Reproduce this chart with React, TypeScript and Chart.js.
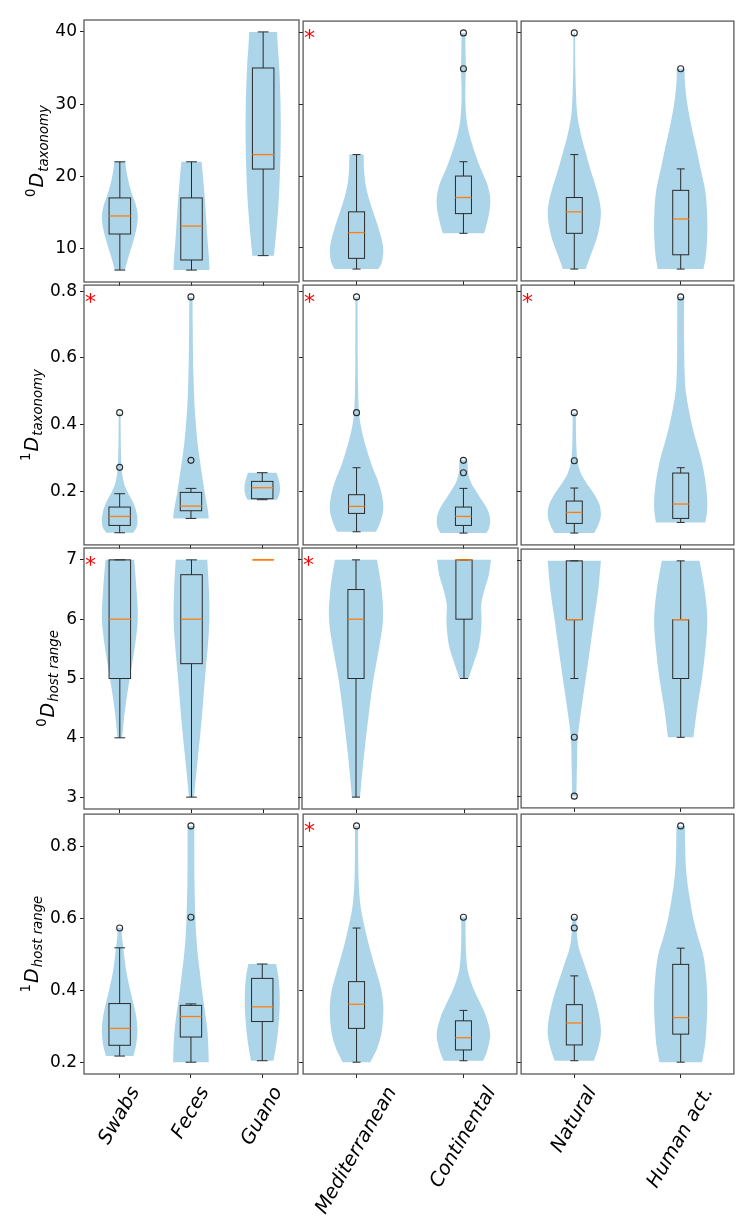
import React, { useEffect, useRef } from 'react';
import { Chart, registerables } from 'chart.js';

Chart.register(...registerables);

// ---------------- data ----------------
const GROUP_LABELS: string[][] = [
  ['Swabs', 'Feces', 'Guano'],
  ['Mediterranean', 'Continental'],
  ['Natural', 'Human act.'],
];
const ROW_SUPERSCRIPTS = ['0', '1', '0', '1'];
const ROW_SUBSCRIPTS = ['taxonomy', 'taxonomy', 'host range', 'host range'];
const Y_TICKS = [
  [10, 20, 30, 40],
  [0.2, 0.4, 0.6, 0.8],
  [3, 4, 5, 6, 7],
  [0.2, 0.4, 0.6, 0.8],
];
const Y_TICK_LABELS = [
  ['10', '20', '30', '40'],
  ['0.2', '0.4', '0.6', '0.8'],
  ['3', '4', '5', '6', '7'],
  ['0.2', '0.4', '0.6', '0.8'],
];
const SIGNIFICANT = [
  [false, true, false],
  [true, true, true],
  [true, true, false],
  [false, true, false],
];

// box stats: [whisker low, Q1, median, Q3, whisker high]
// order: Swabs, Feces, Guano, Mediterranean, Continental, Natural, Human act.
const BOX_TAX0 = [
  [7, 12, 14.5, 17, 22],
  [7, 8.4, 13.1, 17, 22],
  [9, 21, 23, 35, 40],
  [7, 8.5, 12.1, 15, 23],
  [12, 14.75, 17, 20, 22],
  [7, 12, 15, 17, 23],
  [7, 9, 14, 18, 21],
];
const OUT_TAX0 = [[], [], [], [], [35, 40], [40], [35]];
const VIOLIN_TAX0 = [
  [[7, 0.28], [9, 0.5], [11, 0.75], [13, 0.95], [14.5, 1.0], [16, 0.9], [18, 0.62], [20, 0.42], [22, 0.3]],
  [[7, 1.0], [8.5, 0.98], [11, 0.9], [14, 0.82], [17, 0.74], [20, 0.64], [22, 0.56]],
  [[9, 0.6], [12, 0.72], [16, 0.85], [20, 0.93], [25, 0.98], [30, 0.97], [35, 0.9], [38, 0.82], [40, 0.78]],
  [[7, 0.82], [8, 0.95], [9.5, 1.0], [11, 0.95], [13, 0.8], [15, 0.62], [17, 0.45], [19, 0.33], [21, 0.28], [23, 0.27]],
  [[12, 0.77], [13, 0.85], [15, 0.97], [17, 1.0], [19, 0.88], [21, 0.65], [23, 0.45], [25, 0.28], [27, 0.15], [29, 0.09], [31, 0.07], [33, 0.075], [35, 0.09], [37, 0.08], [40, 0.07]],
  [[7, 0.43], [9, 0.62], [11, 0.82], [13, 0.95], [15, 1.0], [17, 0.92], [19, 0.77], [21, 0.6], [23, 0.45], [25, 0.3], [27, 0.18], [29, 0.1], [32, 0.06], [35, 0.04], [40, 0.03]],
  [[7, 0.86], [9, 0.95], [12, 1.0], [15, 0.99], [18, 0.92], [21, 0.75], [24, 0.58], [27, 0.4], [30, 0.25], [33, 0.16], [35, 0.15]],
];

const BOX_TAX1 = [
  [0.076, 0.098, 0.125, 0.153, 0.193],
  [0.119, 0.142, 0.156, 0.197, 0.209],
  [0.175, 0.178, 0.211, 0.23, 0.256],
  [0.079, 0.134, 0.155, 0.19, 0.271],
  [0.075, 0.098, 0.125, 0.153, 0.209],
  [0.075, 0.104, 0.137, 0.171, 0.21],
  [0.107, 0.119, 0.162, 0.255, 0.271],
];
const OUT_TAX1 = [[0.272, 0.436], [0.293, 0.783], [], [0.436, 0.783], [0.256, 0.293], [0.292, 0.436], [0.783]];
const VIOLIN_TAX1 = [
  [[0.076, 0.75], [0.09, 0.93], [0.11, 1.0], [0.13, 0.97], [0.155, 0.85], [0.18, 0.63], [0.2, 0.43], [0.22, 0.27], [0.25, 0.15], [0.28, 0.1], [0.33, 0.07], [0.38, 0.06], [0.436, 0.05]],
  [[0.119, 1.0], [0.15, 0.93], [0.2, 0.76], [0.25, 0.62], [0.3, 0.48], [0.35, 0.36], [0.4, 0.28], [0.45, 0.21], [0.5, 0.17], [0.55, 0.14], [0.6, 0.12], [0.7, 0.1], [0.783, 0.09]],
  [[0.175, 0.82], [0.19, 0.95], [0.21, 1.0], [0.23, 0.95], [0.245, 0.87], [0.256, 0.8]],
  [[0.079, 0.73], [0.1, 0.85], [0.13, 0.97], [0.16, 1.0], [0.2, 0.92], [0.24, 0.76], [0.28, 0.56], [0.32, 0.4], [0.36, 0.26], [0.4, 0.15], [0.44, 0.09], [0.5, 0.06], [0.6, 0.045], [0.783, 0.04]],
  [[0.075, 0.86], [0.09, 0.96], [0.115, 1.0], [0.14, 0.93], [0.16, 0.8], [0.18, 0.63], [0.2, 0.48], [0.22, 0.32], [0.24, 0.22], [0.26, 0.17], [0.293, 0.15]],
  [[0.075, 0.74], [0.09, 0.85], [0.115, 0.97], [0.135, 1.0], [0.16, 0.95], [0.18, 0.83], [0.2, 0.68], [0.22, 0.5], [0.24, 0.34], [0.26, 0.22], [0.29, 0.12], [0.33, 0.08], [0.38, 0.065], [0.436, 0.06]],
  [[0.107, 0.93], [0.14, 0.99], [0.17, 1.0], [0.21, 0.96], [0.25, 0.89], [0.3, 0.76], [0.35, 0.58], [0.4, 0.42], [0.45, 0.29], [0.5, 0.19], [0.55, 0.15], [0.65, 0.13], [0.783, 0.13]],
];

const BOX_HOST0 = [
  [4, 5, 6, 7, 7],
  [3, 5.25, 6, 6.75, 7],
  [7, 7, 7, 7, 7],
  [3, 5, 6, 6.5, 7],
  [5, 6, 7, 7, 7],
  [5, 6, 6, 7, 7],
  [4, 5, 6, 6, 7],
];
const OUT_HOST0 = [[], [], [], [], [], [4, 3], []];
const VIOLIN_HOST0 = [
  [[4, 0.13], [4.5, 0.3], [5, 0.55], [5.5, 0.82], [6, 1.0], [6.5, 0.93], [7, 0.8]],
  [[3, 0.14], [3.5, 0.3], [4, 0.47], [4.5, 0.62], [5, 0.75], [5.5, 0.9], [6, 1.0], [6.5, 0.97], [7, 0.88]],
  [],
  [[3, 0.15], [3.5, 0.25], [4, 0.37], [4.5, 0.5], [5, 0.65], [5.5, 0.85], [6, 1.0], [6.5, 0.95], [7, 0.78]],
  [[5, 0.17], [5.25, 0.35], [5.5, 0.53], [5.75, 0.62], [6, 0.65], [6.25, 0.64], [6.5, 0.76], [6.75, 0.92], [7, 1.0]],
  [[3, 0.08], [3.5, 0.1], [4, 0.13], [4.5, 0.27], [5, 0.43], [5.5, 0.59], [6, 0.74], [6.5, 0.9], [7, 1.0]],
  [[4, 0.48], [4.5, 0.62], [5, 0.8], [5.5, 0.93], [6, 1.0], [6.5, 0.9], [7, 0.71]],
];

const BOX_HOST1 = [
  [0.217, 0.247, 0.294, 0.363, 0.518],
  [0.2, 0.27, 0.327, 0.358, 0.362],
  [0.204, 0.313, 0.354, 0.433, 0.473],
  [0.2, 0.294, 0.361, 0.424, 0.573],
  [0.204, 0.234, 0.268, 0.315, 0.344],
  [0.204, 0.248, 0.309, 0.36, 0.44],
  [0.2, 0.278, 0.324, 0.472, 0.517],
];
const OUT_HOST1 = [[0.573], [0.603, 0.857], [], [0.857], [0.603], [0.573, 0.603], [0.857]];
const VIOLIN_HOST1 = [
  [[0.217, 0.77], [0.25, 0.93], [0.29, 1.0], [0.33, 0.92], [0.37, 0.74], [0.41, 0.55], [0.45, 0.38], [0.49, 0.27], [0.52, 0.2], [0.55, 0.13], [0.573, 0.11]],
  [[0.2, 1.0], [0.25, 0.97], [0.3, 0.9], [0.35, 0.76], [0.4, 0.62], [0.45, 0.5], [0.5, 0.38], [0.55, 0.3], [0.6, 0.25], [0.7, 0.2], [0.8, 0.19], [0.857, 0.19]],
  [[0.204, 0.63], [0.24, 0.76], [0.28, 0.87], [0.32, 0.94], [0.36, 0.98], [0.4, 0.97], [0.44, 0.9], [0.473, 0.78]],
  [[0.2, 0.52], [0.24, 0.78], [0.28, 0.93], [0.32, 0.99], [0.36, 1.0], [0.4, 0.93], [0.44, 0.79], [0.48, 0.63], [0.52, 0.48], [0.56, 0.35], [0.6, 0.23], [0.64, 0.14], [0.7, 0.08], [0.78, 0.06], [0.857, 0.06]],
  [[0.204, 0.74], [0.23, 0.88], [0.26, 0.98], [0.28, 1.0], [0.31, 0.92], [0.34, 0.78], [0.37, 0.59], [0.4, 0.4], [0.43, 0.25], [0.46, 0.15], [0.5, 0.1], [0.55, 0.08], [0.603, 0.08]],
  [[0.204, 0.74], [0.24, 0.9], [0.28, 1.0], [0.32, 0.96], [0.36, 0.85], [0.4, 0.7], [0.44, 0.52], [0.48, 0.34], [0.51, 0.2], [0.54, 0.12], [0.57, 0.09], [0.603, 0.08]],
  [[0.2, 0.8], [0.25, 0.92], [0.3, 0.97], [0.35, 1.0], [0.4, 0.99], [0.45, 0.94], [0.5, 0.84], [0.55, 0.64], [0.6, 0.47], [0.65, 0.35], [0.7, 0.25], [0.75, 0.19], [0.8, 0.17], [0.857, 0.16]],
];

const BOXES = [BOX_TAX0, BOX_TAX1, BOX_HOST0, BOX_HOST1];
const OUTLIERS = [OUT_TAX0, OUT_TAX1, OUT_HOST0, OUT_HOST1];
const VIOLINS = [VIOLIN_TAX0, VIOLIN_TAX1, VIOLIN_HOST0, VIOLIN_HOST1];

// ---------------- layout & style ----------------
const PANEL_LEFT = [84, 302, 520];
const PANEL_RIGHT = [299, 518, 735];
const PANEL_TOP = [20, 284, 548, 813];
const PANEL_BOTTOM = [282, 546, 809, 1074];
const PAGE_W = 756;
const PAGE_H = 1223;

const FONT = '"DejaVu Sans", "Liberation Sans", sans-serif';
const TICK_SIZE = 17;
const XLABEL_SIZE = 19.5;
const YLABEL_SIZE = 19;
const VIOLIN_COLOR = 'rgb(172, 213, 233)';
const BOX_COLOR = '#2a2a2a';
const MEDIAN_COLOR = '#ff7f0e';
const FRAME_COLOR = '#5a5a5a';
const VIOLIN_WIDTH = 0.5;

type Pt = { x: number; y: number };

function smoothTo(ctx: CanvasRenderingContext2D, pts: Pt[]) {
  for (let i = 0; i < pts.length - 1; i++) {
    const p0 = pts[Math.max(i - 1, 0)];
    const p1 = pts[i];
    const p2 = pts[i + 1];
    const p3 = pts[Math.min(i + 2, pts.length - 1)];
    ctx.bezierCurveTo(
      p1.x + (p2.x - p0.x) / 6, p1.y + (p2.y - p0.y) / 6,
      p2.x - (p3.x - p1.x) / 6, p2.y - (p3.y - p1.y) / 6,
      p2.x, p2.y
    );
  }
}

function geometry(r: number, c: number) {
  const left = c === 0 ? 0 : PANEL_LEFT[c] - 4;
  const top = PANEL_TOP[r] - 4;
  const right = PANEL_RIGHT[c] + 4;
  const bottom = r === 3 ? PAGE_H : PANEL_BOTTOM[r] + 4;
  return {
    left, top, width: right - left, height: bottom - top,
    yAxisW: PANEL_LEFT[c] - left,
    xAxisH: bottom - PANEL_BOTTOM[r],
  };
}

function makeChart(canvas: HTMLCanvasElement, r: number, c: number) {
  const g = geometry(r, c);
  const labels = GROUP_LABELS[c];
  const offset = GROUP_LABELS.slice(0, c).reduce((a, gr) => a + gr.length, 0);
  const n = labels.length;
  const positions = labels.map((_, i) => i + 1);
  const boxes = BOXES[r].slice(offset, offset + n);
  const outs = OUTLIERS[r].slice(offset, offset + n);
  const violins = VIOLINS[r].slice(offset, offset + n);
  const allVals = BOXES[r].flatMap((b) => [b[0], b[4]]).concat(OUTLIERS[r].flat());
  const lo = Math.min(...allVals);
  const hi = Math.max(...allVals);
  const margin = (hi - lo) * 0.05;
  const boxW = Math.min(0.15 * Math.max(n - 1, 1), 0.5);

  const violinPlugin = {
    id: 'violinBox',
    beforeDatasetsDraw(chart: any) {
      const ctx: CanvasRenderingContext2D = chart.ctx;
      const xs = chart.scales.x;
      const ys = chart.scales.y;
      const unit = xs.getPixelForValue(1) - xs.getPixelForValue(0);
      const ca = chart.chartArea;
      ctx.save();
      ctx.beginPath();
      ctx.rect(ca.left, ca.top, ca.right - ca.left, ca.bottom - ca.top);
      ctx.clip();
      violins.forEach((prof: number[][], i: number) => {
        if (!prof.length) return;
        const cx = xs.getPixelForValue(positions[i]);
        const half = (VIOLIN_WIDTH / 2) * unit;
        const rightPts = prof.map(([v, w]) => ({ x: cx + w * half, y: ys.getPixelForValue(v) }));
        const leftPts = prof.map(([v, w]) => ({ x: cx - w * half, y: ys.getPixelForValue(v) })).reverse();
        ctx.beginPath();
        ctx.moveTo(rightPts[0].x, rightPts[0].y);
        smoothTo(ctx, rightPts);
        ctx.lineTo(leftPts[0].x, leftPts[0].y);
        smoothTo(ctx, leftPts);
        ctx.closePath();
        ctx.fillStyle = VIOLIN_COLOR;
        ctx.fill();
      });
      boxes.forEach((b: number[], i: number) => {
        const cx = xs.getPixelForValue(positions[i]);
        const bw = boxW * unit;
        const [wl, q1, med, q3, wh] = b.map((v) => ys.getPixelForValue(v));
        const degenerate = Math.abs(wl - wh) < 0.5;
        if (!degenerate) {
          ctx.strokeStyle = BOX_COLOR;
          ctx.lineWidth = 1;
          ctx.beginPath();
          ctx.moveTo(cx, wl); ctx.lineTo(cx, q1);
          ctx.moveTo(cx, q3); ctx.lineTo(cx, wh);
          ctx.moveTo(cx - bw / 4, wl); ctx.lineTo(cx + bw / 4, wl);
          ctx.moveTo(cx - bw / 4, wh); ctx.lineTo(cx + bw / 4, wh);
          ctx.stroke();
          ctx.strokeRect(cx - bw / 2, q3, bw, q1 - q3);
        }
        ctx.strokeStyle = MEDIAN_COLOR;
        ctx.lineWidth = degenerate ? 1.8 : 1.3;
        ctx.beginPath();
        ctx.moveTo(cx - bw / 2, med); ctx.lineTo(cx + bw / 2, med);
        ctx.stroke();
      });
      ctx.restore();
    },
  };

  const decorPlugin = {
    id: 'decor',
    afterDraw(chart: any) {
      const ctx: CanvasRenderingContext2D = chart.ctx;
      const ca = chart.chartArea;
      const xs = chart.scales.x;
      ctx.save();
      ctx.strokeStyle = FRAME_COLOR;
      ctx.lineWidth = 1.3;
      ctx.strokeRect(ca.left, ca.top, ca.right - ca.left, ca.bottom - ca.top);
      if (SIGNIFICANT[r][c]) {
        ctx.fillStyle = 'red';
        ctx.font = `22px ${FONT}`;
        ctx.textAlign = 'center';
        ctx.textBaseline = 'alphabetic';
        ctx.fillText('*', ca.left + 6.5, ca.top + 24);
      }
      if (c === 0) {
        const F = YLABEL_SIZE;
        const s = F * 0.7;
        ctx.font = `${TICK_SIZE}px ${FONT}`;
        const maxTick = Math.max(...Y_TICK_LABELS[r].map((t) => ctx.measureText(t).width));
        const labelRight = ca.left - 7 - maxTick - 5;
        const baseX = labelRight - 0.25 * F - 0.2 * s;
        const cy = (ca.top + ca.bottom) / 2;
        const sup = ROW_SUPERSCRIPTS[r];
        const sub = ROW_SUBSCRIPTS[r];
        ctx.font = `${s}px ${FONT}`;
        const wSup = ctx.measureText(sup).width;
        ctx.font = `italic ${F}px ${FONT}`;
        const wD = ctx.measureText('D').width;
        ctx.font = `italic ${s}px ${FONT}`;
        const wSub = ctx.measureText(sub).width;
        const total = wSup + 1 + wD + 1 + wSub;
        ctx.translate(baseX, cy);
        ctx.rotate(-Math.PI / 2);
        ctx.fillStyle = '#000';
        ctx.textAlign = 'left';
        ctx.textBaseline = 'alphabetic';
        let x = -total / 2;
        ctx.font = `${s}px ${FONT}`;
        ctx.fillText(sup, x, -0.42 * F);
        x += wSup + 1;
        ctx.font = `italic ${F}px ${FONT}`;
        ctx.fillText('D', x, 0);
        x += wD + 1;
        ctx.font = `italic ${s}px ${FONT}`;
        ctx.fillText(sub, x, 0.24 * F);
        ctx.setTransform(1, 0, 0, 1, 0, 0);
      }
      if (r === 3) {
        const th = (60 * Math.PI) / 180;
        ctx.font = `italic ${XLABEL_SIZE}px ${FONT}`;
        ctx.fillStyle = '#000';
        ctx.textAlign = 'center';
        ctx.textBaseline = 'middle';
        const H = XLABEL_SIZE * 1.16;
        labels.forEach((lab, i) => {
          const W = ctx.measureText(lab).width;
          const bh = W * Math.sin(th) + H * Math.cos(th);
          const tx = xs.getPixelForValue(positions[i]);
          const ty = ca.bottom + 9 + bh / 2;
          ctx.save();
          ctx.translate(tx, ty);
          ctx.rotate(-th);
          ctx.fillText(lab, 0, 0);
          ctx.restore();
        });
      }
      ctx.restore();
    },
  };

  const pointData = outs.flatMap((o: number[], i: number) => o.map((v) => ({ x: positions[i], y: v })));

  return new Chart(canvas, {
    type: 'scatter',
    data: {
      datasets: [
        {
          data: pointData,
          pointRadius: 3,
          pointBorderColor: '#2a2a2a',
          pointBackgroundColor: 'rgba(0,0,0,0)',
          pointBorderWidth: 1.1,
          showLine: false,
        },
      ],
    },
    options: {
      responsive: false,
      devicePixelRatio: 1,
      animation: false,
      events: [],
      layout: { padding: { left: 0, top: 4, right: 4, bottom: 0 } },
      plugins: { legend: { display: false }, tooltip: { enabled: false } },
      scales: {
        x: {
          type: 'linear',
          min: 0.5,
          max: n + 0.5,
          afterBuildTicks: (axis: any) => {
            axis.ticks = positions.map((v) => ({ value: v }));
          },
          afterFit: (axis: any) => {
            axis.height = g.xAxisH;
            axis.paddingLeft = 0;
            axis.paddingRight = 0;
          },
          ticks: { display: false },
          grid: { display: true, drawOnChartArea: false, drawTicks: true, tickLength: 4, tickColor: '#222', tickWidth: 1 },
          border: { display: false },
        },
        y: {
          type: 'linear',
          min: lo - margin,
          max: hi + margin,
          afterBuildTicks: (axis: any) => {
            axis.ticks = Y_TICKS[r].map((v) => ({ value: v }));
          },
          afterFit: (axis: any) => {
            axis.width = g.yAxisW;
            axis.paddingTop = 0;
            axis.paddingBottom = 0;
          },
          ticks: {
            display: c === 0,
            padding: 3,
            color: '#000',
            font: { family: FONT, size: TICK_SIZE },
            callback: (value: any, index: number) => Y_TICK_LABELS[r][index],
          },
          grid: { display: true, drawOnChartArea: false, drawTicks: true, tickLength: 4, tickColor: '#222', tickWidth: 1 },
          border: { display: false },
        },
      },
    },
    plugins: [violinPlugin, decorPlugin],
  } as any);
}

export default function App() {
  const refs = useRef<(HTMLCanvasElement | null)[]>([]);

  useEffect(() => {
    const charts: Chart[] = [];
    for (let r = 0; r < 4; r++) {
      for (let c = 0; c < 3; c++) {
        const cv = refs.current[r * 3 + c];
        if (cv) charts.push(makeChart(cv, r, c));
      }
    }
    return () => charts.forEach((ch) => ch.destroy());
  }, []);

  const canvases: React.ReactNode[] = [];
  for (let r = 0; r < 4; r++) {
    for (let c = 0; c < 3; c++) {
      const g = geometry(r, c);
      const idx = r * 3 + c;
      canvases.push(
        <canvas
          key={idx}
          ref={(el) => { refs.current[idx] = el; }}
          width={g.width}
          height={g.height}
          style={{ position: 'absolute', left: g.left, top: g.top, width: g.width, height: g.height }}
        />
      );
    }
  }

  return (
    <div style={{ position: 'absolute', left: 0, top: 0, width: PAGE_W, height: PAGE_H, background: '#fff', overflow: 'hidden' }}>
      {canvases}
    </div>
  );
}
